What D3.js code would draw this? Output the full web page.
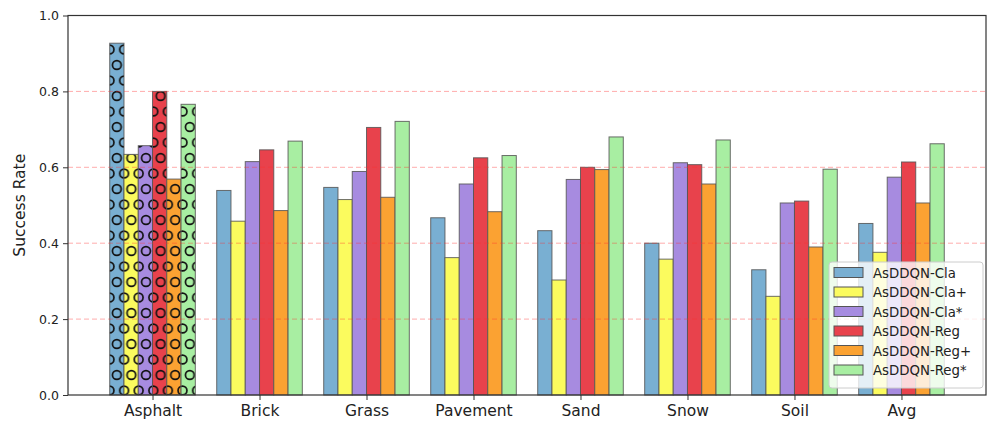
<!DOCTYPE html>
<html>
<head>
<meta charset="utf-8">
<script src="https://cdn.jsdelivr.net/npm/d3@7"></script>
<style>
  body { margin: 0; background: #fff; }
  svg { display: block; }
  svg text { font-family: "DejaVu Sans", sans-serif; }
</style>
</head>
<body>
<div id="chart"></div>
<script>
// values
var categories = ["Asphalt", "Brick", "Grass", "Pavement", "Sand", "Snow", "Soil", "Avg"]
var seriesNames = ["AsDDQN-Cla", "AsDDQN-Cla+", "AsDDQN-Cla*", "AsDDQN-Reg", "AsDDQN-Reg+", "AsDDQN-Reg*"]
var claValues     = [0.927, 0.539, 0.547, 0.467, 0.433, 0.400, 0.330, 0.452]
var claPlusValues = [0.634, 0.458, 0.515, 0.362, 0.303, 0.358, 0.260, 0.376]
var claStarValues = [0.657, 0.615, 0.589, 0.556, 0.568, 0.612, 0.506, 0.574]
var regValues     = [0.800, 0.646, 0.705, 0.625, 0.600, 0.607, 0.511, 0.614]
var regPlusValues = [0.569, 0.486, 0.521, 0.483, 0.594, 0.556, 0.390, 0.506]
var regStarValues = [0.766, 0.669, 0.721, 0.631, 0.680, 0.672, 0.595, 0.662]
var yTicks = [0, 0.2, 0.4, 0.6, 0.8, 1.0]

var series = [claValues, claPlusValues, claStarValues, regValues, regPlusValues, regStarValues]
var colors = ["#79afd2", "#fbfb5e", "#a78be0", "#e8424c", "#fba232", "#a8eea2"]

var W = 990, H = 421
var plot = { left: 68, right: 986, top: 15.5, bottom: 395 }
var groupWidth = 0.8
var barW = groupWidth / series.length

var x = d3.scaleLinear().domain([-0.79, categories.length - 1 + 0.79]).range([plot.left, plot.right])
var y = d3.scaleLinear().domain([0, 1]).range([plot.bottom, plot.top])

var svg = d3.select("#chart").append("svg").attr("width", W).attr("height", H)

// circle hatch used on the first group
var defs = svg.append("defs")
var hatchW = 14.6, hatchH = 15.5
colors.forEach(function(c, k){
	var p = defs.append("pattern").attr("id", "hatch" + k)
		.attr("patternUnits", "userSpaceOnUse")
		.attr("width", hatchW).attr("height", hatchH * 2)
		.attr("y", 3)
	p.append("rect").attr("width", hatchW).attr("height", hatchH * 2).attr("fill", c)
	var pts = [[0, 0], [hatchW, 0], [hatchW / 2, hatchH], [0, hatchH * 2], [hatchW, hatchH * 2]]
	pts.forEach(function(pt){
		p.append("circle").attr("cx", pt[0]).attr("cy", pt[1]).attr("r", 4.4)
			.attr("fill", "none").attr("stroke", "#111").attr("stroke-width", 1.7)
	})
})

// bars
series.forEach(function(vals, s){
	svg.append("g").selectAll("rect").data(vals).enter().append("rect")
		.attr("x", function(d, i){ return x(i - groupWidth / 2 + s * barW) })
		.attr("width", function(d, i){ return x(i - groupWidth / 2 + (s + 1) * barW) - x(i - groupWidth / 2 + s * barW) })
		.attr("y", function(d){ return y(d) })
		.attr("height", function(d){ return y(0) - y(d) })
		.attr("fill", function(d, i){ return i == 0 ? "url(#hatch" + s + ")" : colors[s] })
		.attr("stroke", "#555").attr("stroke-opacity", 0.85).attr("stroke-width", 1)
})

// red dashed grid, drawn over the bars
svg.append("g").selectAll("line").data(yTicks.slice(1, -1)).enter().append("line")
	.attr("x1", plot.left).attr("x2", plot.right)
	.attr("y1", function(d){ return y(d) }).attr("y2", function(d){ return y(d) })
	.attr("stroke", "#ff3030").attr("stroke-opacity", 0.4)
	.attr("stroke-width", 1).attr("stroke-dasharray", "5,3")

// frame
svg.append("rect").attr("x", plot.left).attr("y", plot.top)
	.attr("width", plot.right - plot.left).attr("height", plot.bottom - plot.top)
	.attr("fill", "none").attr("stroke", "#333").attr("stroke-width", 1.2)

// axes
var yAxis = svg.append("g").attr("transform", "translate(" + plot.left + ",0)")
	.call(d3.axisLeft(y).tickValues(yTicks).tickFormat(d3.format(".1f")).tickSize(5).tickPadding(4))
	.attr("font-family", null).attr("font-size", null)
yAxis.select(".domain").remove()
yAxis.selectAll("text").style("font-size", "12.5px").attr("fill", "#222")
yAxis.selectAll("line").attr("stroke", "#333")

var xAxis = svg.append("g").attr("transform", "translate(0," + plot.bottom + ")")
	.call(d3.axisBottom(x).tickValues(d3.range(categories.length))
		.tickFormat(function(i){ return categories[i] }).tickSize(5).tickPadding(5))
	.attr("font-family", null).attr("font-size", null)
xAxis.select(".domain").remove()
xAxis.selectAll("text").style("font-size", "15.5px").attr("fill", "#222")
xAxis.selectAll("line").attr("stroke", "#333")

svg.append("text").attr("transform", "translate(25," + ((plot.top + plot.bottom) / 2) + ") rotate(-90)")
	.attr("text-anchor", "middle").style("font-size", "15.5px").attr("fill", "#222")
	.text("Success Rate")

// legend
var lg = svg.append("g").attr("transform", "translate(829,262)")
lg.append("rect").attr("width", 154).attr("height", 126).attr("rx", 3)
	.attr("fill", "#fff").attr("fill-opacity", 0.8).attr("stroke", "#ccc")
seriesNames.forEach(function(name, k){
	var row = lg.append("g").attr("transform", "translate(5," + (5.5 + k * 19.5) + ")")
	row.append("rect").attr("width", 29).attr("height", 10)
		.attr("fill", colors[k]).attr("stroke", "#555").attr("stroke-width", 1)
	row.append("text").attr("x", 39).attr("y", 10).style("font-size", "13.3px")
		.attr("fill", "#222").text(name)
})
</script>
</body>
</html>
